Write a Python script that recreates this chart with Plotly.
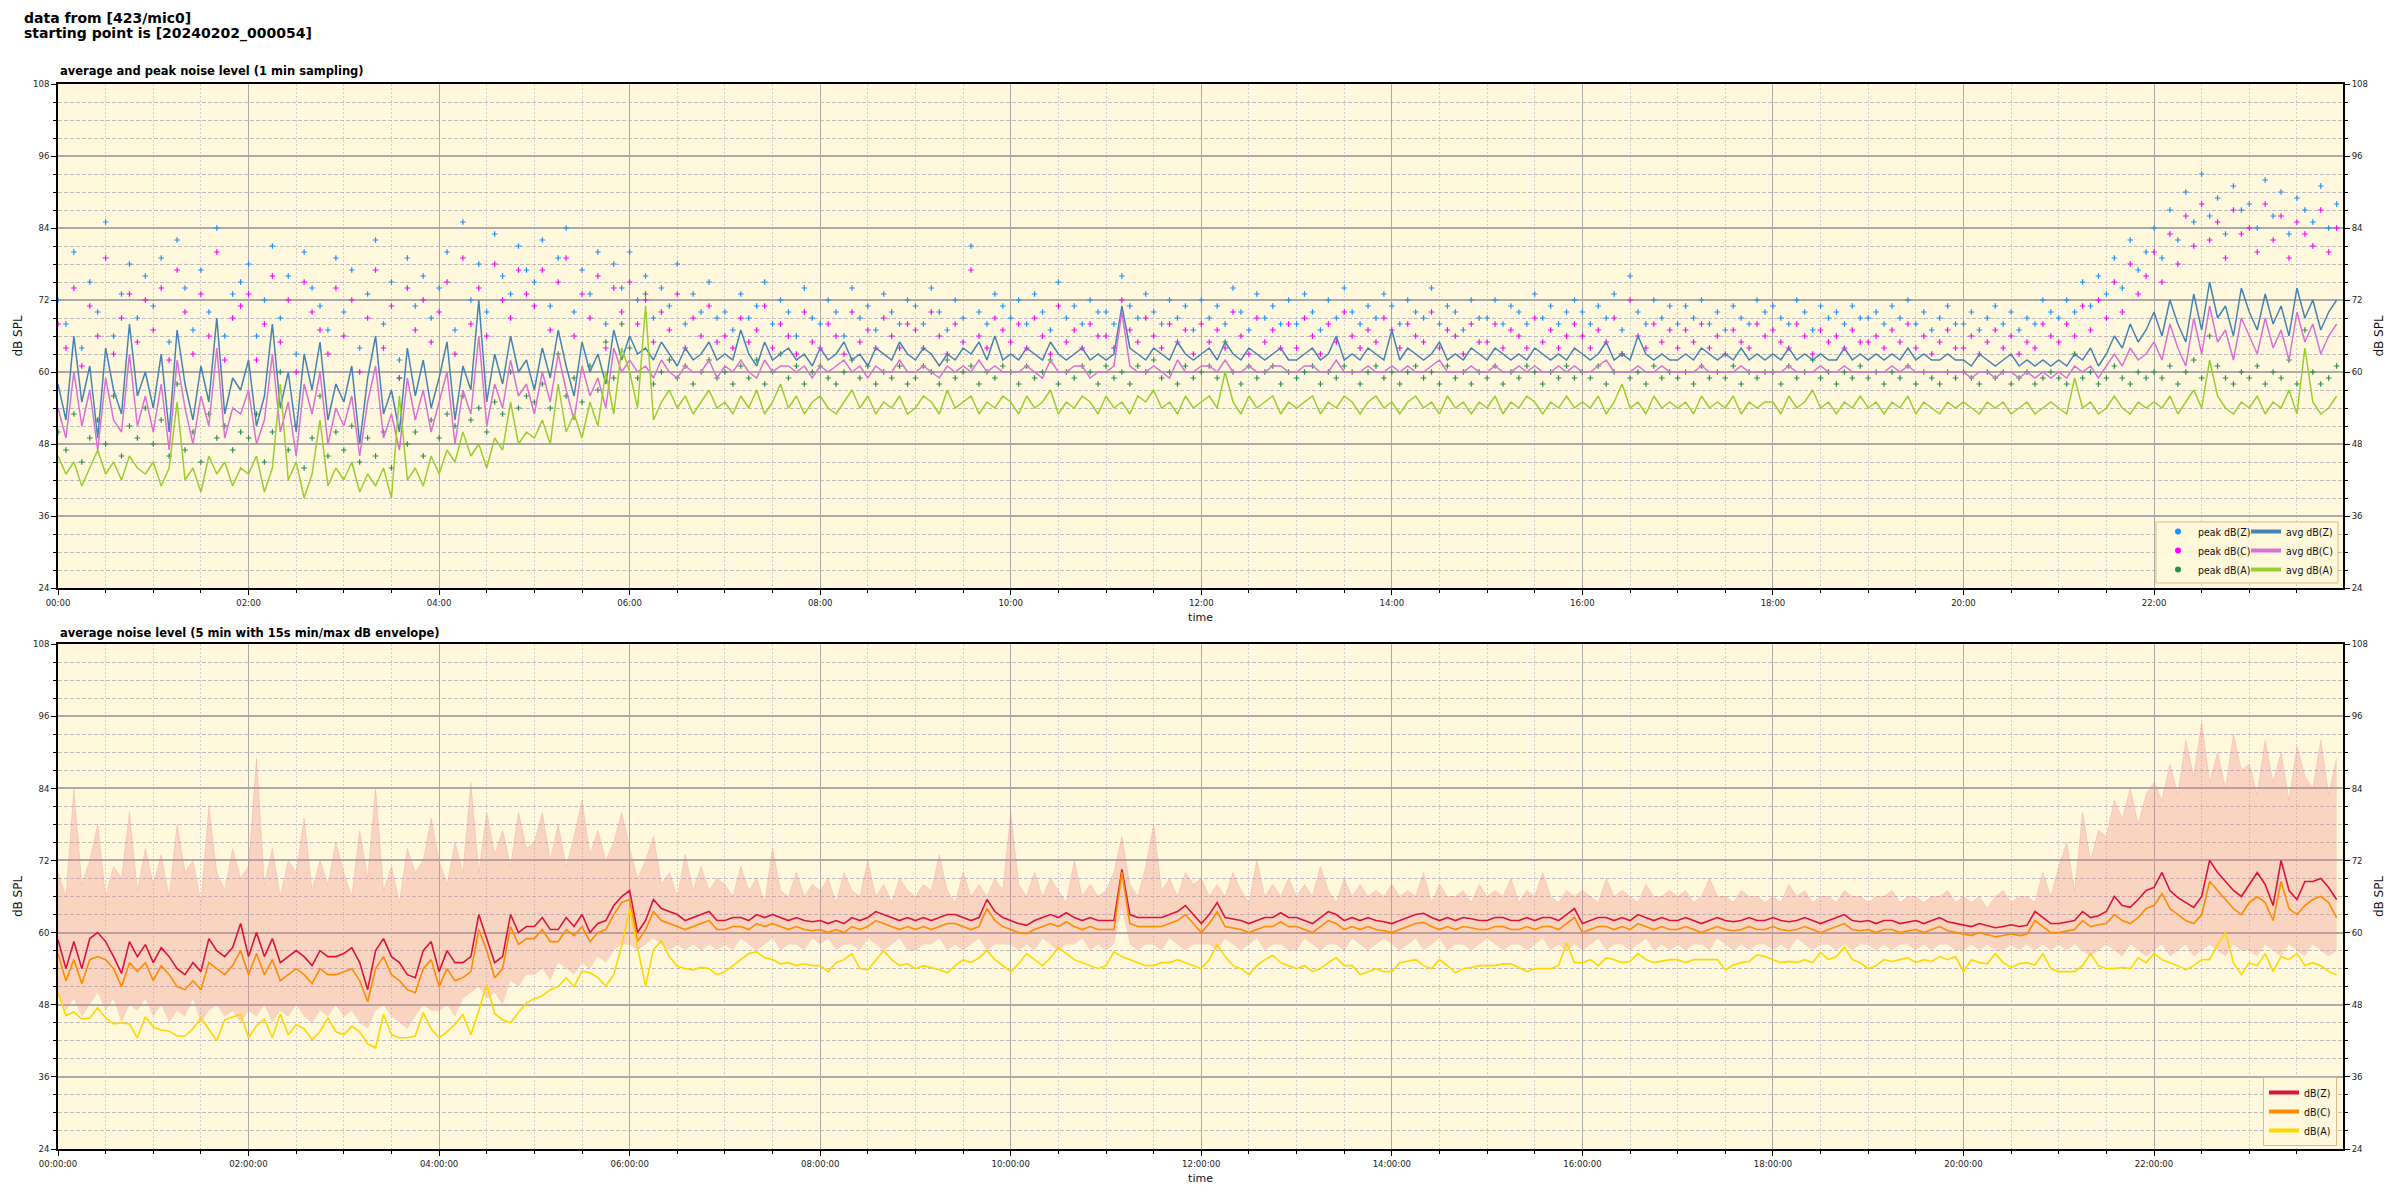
import plotly.graph_objects as go

FONT = "DejaVu Sans"
FONT_C = "DejaVu Sans Condensed, DejaVu Sans"

STEP_MIN = 5  # one value every 5 minutes, one row per hour

# ---------------- top panel: 1-min sampling (shown at 5-min steps) ----------------
avg_z = [
    58,52,66,55,61,49,64,57,53,68,56,60,
    54,63,50,67,58,52,61,55,69,53,59,57,
    62,51,56,68,54,60,50,63,57,65,52,58,
    55,61,48,59,66,53,57,50,64,56,62,54,
    59,65,52,61,57,72,55,63,58,66,60,62,
    57,64,59,67,61,56,65,60,63,58,67,62,
    66,63,64,62,65,63,61,64,62,63,65,62,
    63,62,67,63,61,65,62,63,64,62,63,61,
    64,62,63,65,62,63,61,64,63,62,65,63,
    62,64,63,61,63,62,64,63,65,62,66,62,
    63,62,64,63,62,65,63,62,63,64,62,63,
    62,63,71,64,63,62,64,63,62,65,63,62,
    63,64,62,65,63,62,64,63,62,63,64,62,
    62,63,64,62,63,66,62,63,62,64,63,62,
    67,62,64,63,62,63,65,62,63,62,64,63,
    62,64,63,62,63,62,64,63,62,63,62,64,
    63,62,63,65,62,63,62,66,63,62,63,62,
    62,63,62,64,63,62,63,62,64,62,63,62,
    63,62,64,62,63,62,63,62,62,64,62,63,
    62,63,62,63,62,64,62,63,62,62,63,62,
    62,61,63,62,61,62,63,61,62,61,62,61,
    62,61,63,62,64,61,63,66,64,68,65,67,
    70,66,72,68,65,73,67,75,69,71,66,74,
    70,67,73,68,71,66,74,69,72,67,70,72,
]
avg_c = [
    54,49,60,51,57,47,59,52,50,63,51,56,
    50,58,47,62,54,48,56,51,64,49,54,53,
    57,48,52,63,50,55,46,58,53,60,48,54,
    51,56,46,55,61,49,53,47,59,52,57,50,
    55,60,48,57,53,66,51,58,54,62,56,58,
    53,60,55,63,57,52,61,56,59,54,64,60,
    62,60,61,59,62,60,59,61,60,60,62,59,
    61,60,62,60,59,62,60,61,61,60,61,59,
    61,60,61,62,60,61,59,61,60,60,62,60,
    60,61,60,59,61,60,61,60,62,60,61,60,
    60,60,61,60,59,62,60,60,61,61,59,60,
    60,61,70,61,60,60,61,60,59,62,60,60,
    61,61,60,62,60,60,61,60,60,61,61,60,
    60,61,61,60,60,62,60,60,60,61,60,60,
    61,60,61,60,60,61,62,60,60,60,61,60,
    60,61,60,60,61,60,61,60,60,61,60,61,
    60,60,61,62,60,60,60,61,60,60,61,60,
    60,60,60,61,60,60,60,60,61,60,60,60,
    60,60,61,60,60,60,61,60,60,61,60,60,
    60,60,60,61,60,61,60,60,60,60,60,60,
    60,59,60,60,59,60,60,59,60,59,60,59,
    60,59,61,60,61,59,61,63,61,64,62,63,
    65,62,68,64,61,69,63,71,65,67,62,69,
    66,63,69,64,67,62,70,65,68,63,66,68,
]
avg_a = [
    46,43,45,41,44,47,43,45,42,46,44,43,
    45,41,44,55,42,44,40,46,43,45,41,44,
    43,46,40,44,58,42,45,39,43,52,41,44,
    42,45,40,43,41,44,39,56,42,44,41,46,
    43,47,45,50,46,48,44,49,47,55,48,50,
    49,52,48,58,50,53,49,55,51,60,53,64,
    60,54,71,52,55,57,54,56,53,55,57,54,
    55,53,56,54,57,53,55,58,54,56,53,55,
    56,54,53,55,57,54,56,53,55,54,56,53,
    54,56,55,53,57,54,55,56,53,55,54,56,
    55,53,56,54,55,57,53,55,54,56,55,53,
    56,54,55,53,56,55,57,54,55,53,56,54,
    55,56,54,60,55,53,56,54,55,56,53,55,
    54,55,56,53,55,54,56,55,53,55,56,54,
    55,53,55,56,54,55,53,56,54,55,53,55,
    54,56,53,55,54,56,55,53,55,54,56,54,
    55,54,56,53,55,58,54,55,53,56,54,55,
    54,55,53,56,54,55,54,56,53,55,54,55,
    55,53,56,54,55,57,54,55,53,55,54,56,
    54,55,53,55,54,56,53,55,54,53,55,54,
    55,54,53,55,54,55,53,54,55,53,54,55,
    54,53,59,54,55,53,54,56,54,53,55,54,
    55,54,56,53,55,57,54,62,56,54,53,55,
    54,56,53,55,54,57,53,64,55,53,54,56,
]
peak_z = [
    72,68,80,64,75,70,85,66,73,78,69,76,
    71,79,65,82,74,67,77,70,84,66,73,75,
    78,66,72,81,69,76,63,80,74,71,67,79,
    70,77,64,73,82,68,75,62,79,71,76,69,
    74,80,67,85,72,78,70,83,76,73,81,77,
    75,82,71,79,84,70,77,73,80,68,78,74,
    80,72,76,69,74,71,78,68,73,70,75,69,
    70,67,73,69,71,75,68,72,70,66,74,69,
    68,72,70,66,74,69,71,67,73,70,68,72,
    71,68,74,70,67,72,69,81,70,68,73,71,
    69,72,68,73,70,67,75,69,71,68,72,70,
    70,68,76,71,69,73,70,68,72,69,71,67,
    72,69,71,68,74,70,67,73,69,71,68,72,
    68,73,70,67,72,69,74,70,68,71,69,73,
    71,68,72,70,69,74,68,71,70,67,72,69,
    69,72,68,71,70,68,73,69,71,68,70,72,
    70,68,71,69,73,67,76,70,68,72,69,71,
    68,71,69,72,68,70,67,71,69,68,72,70,
    71,69,68,72,70,67,71,69,70,68,71,69,
    69,70,68,71,69,72,68,70,67,69,71,68,
    68,70,67,69,71,68,70,67,69,68,72,70,
    69,72,70,75,71,76,73,79,74,82,77,80,
    84,79,87,82,90,85,93,86,89,83,91,87,
    88,84,92,86,90,83,89,87,85,91,84,88,
]
peak_c = [
    68,64,74,61,71,66,79,63,69,73,65,72,
    67,74,62,77,70,63,73,66,80,62,69,71,
    73,62,68,76,65,72,60,75,70,67,63,74,
    66,72,60,69,77,64,71,59,74,67,72,65,
    70,75,63,79,68,74,66,78,72,69,77,73,
    71,77,67,75,79,66,73,69,76,64,74,70,
    75,68,72,65,70,67,73,64,69,66,71,65,
    66,64,69,65,67,71,64,68,66,63,70,65,
    64,68,66,63,70,65,67,64,69,66,64,68,
    67,64,70,66,63,68,65,77,66,64,69,67,
    65,68,64,69,66,63,71,65,67,64,68,66,
    66,64,72,67,65,69,66,64,68,65,67,63,
    68,65,67,64,70,66,63,69,65,67,64,68,
    64,69,66,63,68,65,70,66,64,67,65,69,
    67,64,68,66,65,70,64,67,66,63,68,65,
    65,68,64,67,66,64,69,65,67,64,66,68,
    66,64,67,65,69,63,72,66,64,68,65,67,
    64,67,65,68,64,66,63,67,65,64,68,66,
    67,65,64,68,66,63,67,65,66,64,67,65,
    65,66,64,67,65,68,64,66,63,65,67,64,
    64,66,63,65,67,64,66,63,65,64,68,66,
    65,68,66,71,67,72,69,75,70,78,73,76,
    80,75,83,78,86,81,88,82,85,79,87,83,
    84,80,88,82,86,79,85,83,81,87,80,84,
]
peak_a = [
    50,47,53,45,49,52,48,56,46,51,49,54,
    48,52,46,58,47,50,45,53,49,51,47,50,
    49,53,45,50,60,47,51,44,49,56,46,50,
    47,51,45,49,46,50,44,59,48,50,46,52,
    49,53,51,56,52,54,50,55,53,60,54,56,
    55,58,54,63,56,59,55,61,57,65,59,68,
    64,59,73,58,60,62,59,61,58,60,62,59,
    60,58,61,59,62,58,60,63,59,61,58,60,
    61,59,58,60,62,59,61,58,60,59,61,58,
    59,61,60,58,62,59,60,61,58,60,59,61,
    60,58,61,59,60,62,58,60,59,61,60,58,
    61,59,60,58,61,60,62,59,60,58,61,59,
    60,61,59,65,60,58,61,59,60,61,58,60,
    59,60,61,58,60,59,61,60,58,60,61,59,
    60,58,60,61,59,60,58,61,59,60,58,60,
    59,61,58,60,59,61,60,58,60,59,61,59,
    60,59,61,58,60,63,59,60,58,61,59,60,
    59,60,58,61,59,60,59,61,58,60,59,60,
    60,58,61,59,60,62,59,60,58,60,59,61,
    59,60,58,60,59,61,58,60,59,58,60,59,
    60,59,58,60,59,60,58,59,60,58,59,60,
    59,58,63,59,60,58,59,61,59,58,60,59,
    60,59,61,58,60,62,59,66,61,59,58,60,
    59,61,58,60,59,62,58,67,60,58,59,61,
]

# ---------------- bottom panel: 5-min averages + 15 s min/max envelope ----------------
avg5_z = [
    58.8,54,58.5,54,59,60,58.5,56,53.2,58.5,56,58,
    55,57.5,56,54,53,55,53.5,59,57,56,57.5,61.5,
    56,60,56,59,55,56,57,56,54.5,57,56,56,
    56.5,57.5,55,50.5,57,59,56,55,53,52.5,57,58.5,
    53.5,57,55,55,56,63,59,55,56,63,60,61,
    61,62.5,60.5,60.5,62.5,61,63,60,61.5,62,64.5,66,
    67,60,62,65.5,64,63.5,63,62,62.5,63,63.5,62,
    62,62.5,62.5,62,63,62.5,63,62.5,62,62.5,62,61.8,
    62,61.5,62,61.5,62.5,62,62.5,63.5,63,62.5,62,62.5,
    62,62.5,62,62.5,63,63,62.5,62,62.5,65.5,63.5,62.5,
    62,61.5,61.2,62,62.5,63,62.5,63.3,62.5,62,62.5,62,
    62,62,70.5,63,62.5,62.5,62.5,62.5,63,63.5,64.5,63,
    61.5,63,65,62.5,62.3,62,61.5,62,62.5,62.5,63.3,62.5,
    62.5,62,61.5,62.5,63.5,63,62,62.5,62,62.5,62,61.8,
    61.5,62,62.5,63,63.2,62.5,62,62.5,62,62.5,62.3,62,
    62,62.5,62.5,62,62,62.5,62,62.5,62.5,62,63,64,
    61.5,62,62.5,62.5,62,62.5,62,63,62.5,62,62.5,62,
    62,62.5,62,61.5,62,62.5,62,61.8,62,62.5,62,62,
    62.5,62,61.8,62,62.5,62,61.5,62,62.5,63,62,61.8,
    62,61.5,62,62,61.5,61.8,62,61.5,62,62.5,61.8,61.5,
    61.2,61,61.5,61.2,60.8,61,61.3,61,61.2,63.5,62.5,61.5,
    61.5,61.8,62,63.5,62.5,62.8,63.5,66,64.5,64.2,65.5,67,
    67.5,70,67,65.8,65,64.2,66,72,70,68.5,67,66,
    68,70,68,64.5,72,67,65.5,68.5,68.5,69,67.5,65.5,
]
avg5_c = [
    56.5,52,55.5,51.5,55.5,56,55.5,54,51,55,53.5,55,
    52,54.5,53,51,50.5,52,50.5,55,54,53,54.5,57,
    53,56.5,53,55.5,52,53,54,53,51.5,54,53,53,
    53.5,54,52,48.5,54,56,53,52,50.5,50,54,55.5,
    51,54,52,52.5,53.5,60.5,57,52.5,54,61,58,59,
    59,60.5,58.5,58.5,60.5,59.5,61,58.5,60,60.5,63,65,
    65.5,58.5,60.5,63.5,62,61.5,61,60.5,61,61.5,62,60.5,
    60.5,61,61,60.5,61.5,61,61.5,61,60.5,61,60.5,60.3,
    60.5,60,60.5,60,61,60.5,61,62,61.5,61,60.5,61,
    60.5,61,60.5,61,61.5,61.5,61,60.5,61,64,62,61,
    60.5,60,59.8,60.5,61,61.5,61,61.8,61,60.5,61,60.5,
    60.5,60.5,70,61.5,61,61,61,61,61.5,62,63,61.5,
    60,61.5,63.5,61,60.8,60.5,60,60.5,61,61,61.8,61,
    61,60.5,60,61,62,61.5,60.5,61,60.5,61,60.5,60.3,
    60,60.5,61,61.5,61.7,61,60.5,61,60.5,61,60.8,60.5,
    60.5,61,61,60.5,60.5,61,60.5,61,61,60.5,61.5,62.5,
    60,60.5,61,61,60.5,61,60.5,61.5,61,60.5,61,60.5,
    60.5,61,60.5,60,60.5,61,60.5,60.3,60.5,61,60.5,60.5,
    61,60.5,60.3,60.5,61,60.5,60,60.5,61,61.5,60.5,60.3,
    60.5,60,60.5,60.5,60,60.3,60.5,60,60.5,61,60.3,60,
    59.7,59.5,60,59.7,59.3,59.5,59.8,59.5,59.7,62,61,60,
    60,60.3,60.5,62,61,61.3,61.5,63,62,61.5,62.5,64,
    64.5,66.5,64,63,62,61.5,63,68.5,67,65.5,64,63,
    65,66,65,62,68.5,64,63,64.5,65.5,66,65,62.5,
]
avg5_a = [
    50,46.2,46.8,45.6,45.8,47.5,45.8,44.8,45,44.8,42.5,46,
    44.3,43.8,43.6,42.8,42.8,44,45.8,44,42,45.5,46,46.4,
    42.5,44.5,45.6,42.5,46.5,43,44.7,44,42.2,43.5,45.8,43.5,
    43,44.4,43.5,41.5,40.8,46.4,43,42.5,42.5,42.8,46.7,44,
    42.5,43.5,44.7,46.4,43,47,51.4,46.5,45.5,45,46.7,48.3,
    49,49.5,50.5,51,52.5,51,53.6,53.3,52.5,51.1,53,57.8,
    64,57.8,51.1,57.2,58.6,56,54.4,54,53.8,54.2,54,53,
    53.5,54.5,55.5,56.5,56.8,55.8,55.5,54.8,55,54.5,54.8,54.5,
    54.5,53.5,55,55.5,56.5,54,53.8,55.5,57,55.5,54.5,54.8,
    54,54.5,54.2,53.8,53.3,54.5,55.5,55,55.8,57,55.5,54.5,
    53.5,54.8,56.5,55.5,54.5,55.8,57.5,56.5,55.5,55,54.5,54,
    54.5,56.8,56,55.5,55,54.5,54.5,55,55,55.5,55,54.5,
    54,55.5,58,56,54.5,54,53,54.5,55.5,56.2,55,54.5,
    54,54.5,53.5,54,55,55.8,54.5,54.5,53,53.5,54,53.5,
    53.5,55,55.2,55.5,54.5,54,55.5,54.5,53.3,54,54.2,54.5,
    54.5,54.5,54.8,54.8,54.2,53.5,54,54,54,54.5,58.3,55,
    55,55.5,54.5,55.8,55.5,55,55.2,56.5,55.5,55,55.3,55.5,
    55.5,55,55.5,55.5,55.5,55.5,53.8,54.6,55,55.2,56.3,56,
    55.5,55,55.2,55,55.5,55,56.7,55.5,56,57.6,55.5,55,
    54,54.5,55.5,55.2,55.5,55.8,55,55.5,55.2,56,55.5,56,
    53.5,55.5,55,54.8,56.5,55,54.2,54.8,55,54.6,56.5,54,
    53.5,53.5,53.5,54.5,56.5,54.5,54,54,54.2,54,55.8,55,
    56.5,55.5,55,54.5,53.8,54.5,55.5,55.5,58,60,55,53,
    55,54.5,56.5,53.5,56,55.5,56.5,54.5,55,54.5,53.5,53,
]
env_max = [
    70,66,84,68,72,78,66,71,69,80,67,74,
    68,73,66,78,70,72,65,81,70,67,74,69,
    71,89,68,74,66,72,70,79,67,72,68,75,
    70,66,77,69,84,67,71,65,74,70,72,79,
    72,68,75,70,85,70,80,73,77,71,80,74,
    75,80,72,78,71,76,82,73,77,72,75,80,
    74,69,72,76,68,70,66,73,67,71,67,69,
    68,66,71,67,69,65,74,67,66,70,66,68,
    67,69,65,70,67,66,72,66,68,65,69,67,
    66,68,67,73,67,65,70,66,68,66,69,67,
    80,68,66,70,66,69,67,65,72,66,68,66,
    67,70,76,68,66,71,78,67,69,66,70,68,
    69,66,68,66,70,67,65,72,66,68,66,69,
    66,68,66,71,67,65,69,66,68,66,67,66,
    68,66,67,66,70,65,68,66,66,67,65,68,
    66,67,66,69,65,67,66,70,66,65,67,66,
    67,66,65,69,66,67,66,65,68,66,66,67,
    66,67,65,66,69,66,66,65,67,66,66,65,
    66,65,68,66,67,65,66,66,65,67,66,66,
    65,66,66,67,65,66,66,65,66,66,67,65,
    66,65,66,64,66,67,65,66,66,65,70,66,
    71,75,67,80,72,77,76,82,79,84,78,83,
    85,82,88,83,92,86,95,85,90,84,93,87,
    88,83,92,85,90,82,91,86,84,92,83,89,
]
env_min = [
    50,47,49,46,48,50,47,49,45,48,47,49,
    46,48,45,47,46,49,45,47,48,46,47,45,
    47,46,48,45,47,46,48,46,45,47,46,48,
    46,47,45,44,47,48,46,45,44,46,48,47,
    47,48,46,49,50,51,49,50,48,52,51,53,
    53,54,52,55,54,53,55,54,56,55,57,58,
    58,57,58,59,58,57,58,57,58,57,58,57,
    58,57,59,58,57,58,59,57,58,58,57,59,
    58,59,57,58,58,57,59,58,57,58,59,57,
    57,58,58,59,57,58,57,58,59,57,58,58,
    58,57,58,57,59,58,57,58,58,59,57,58,
    57,58,64,58,57,58,58,57,59,58,57,58,
    58,58,57,59,58,57,58,59,57,58,58,57,
    57,59,58,57,58,58,57,59,58,57,58,59,
    58,57,58,59,57,58,59,57,58,58,57,58,
    59,58,57,58,58,57,58,59,57,58,57,58,
    57,58,59,57,58,58,57,58,59,57,58,57,
    58,57,58,58,57,59,58,57,58,57,58,58,
    57,58,57,59,58,57,58,58,57,58,57,58,
    58,57,58,57,58,58,57,58,57,58,58,57,
    57,58,57,58,57,57,58,57,58,57,58,57,
    58,57,58,57,56,57,58,57,56,58,57,56,
    57,58,56,57,58,56,57,58,57,56,58,57,
    57,56,58,57,56,58,57,56,58,57,56,57,
]

tick_minutes = [0, 120, 240, 360, 480, 600, 720, 840, 960, 1080, 1200, 1320]
top_tick_text = ["00:00", "02:00", "04:00", "06:00", "08:00", "10:00",
                 "12:00", "14:00", "16:00", "18:00", "20:00", "22:00"]
bottom_tick_text = ["00:00:00", "02:00:00", "04:00:00", "06:00:00", "08:00:00", "10:00:00",
                    "12:00:00", "14:00:00", "16:00:00", "18:00:00", "20:00:00", "22:00:00"]
y_ticks = [24, 36, 48, 60, 72, 84, 96, 108]

COL = dict(
    avg_z="#4682B4", avg_c="#DA70D6", avg_a="#9ACD32",
    peak_z="#1E90FF", peak_c="#FF00FF", peak_a="#2E8B57",
    z5="#DC143C", c5="#FF8C00", a5="#FFD700",
    env="rgba(235,130,130,0.30)",
)


def xs(arr):
    return [i * STEP_MIN for i in range(len(arr))]


fig = go.Figure()

# top: peak markers
for name, arr, col in [("peak dB(Z)", peak_z, COL["peak_z"]),
                       ("peak dB(C)", peak_c, COL["peak_c"]),
                       ("peak dB(A)", peak_a, COL["peak_a"])]:
    fig.add_trace(go.Scatter(
        x=xs(arr), y=arr, mode="markers", name=name, showlegend=False,
        marker=dict(symbol="cross-thin", size=4, color=col, line=dict(width=1.2, color=col)),
        xaxis="x", yaxis="y"))

# top: average lines
for name, arr, col in [("avg dB(Z)", avg_z, COL["avg_z"]),
                       ("avg dB(C)", avg_c, COL["avg_c"]),
                       ("avg dB(A)", avg_a, COL["avg_a"])]:
    fig.add_trace(go.Scatter(
        x=xs(arr), y=arr, mode="lines", name=name, showlegend=False,
        line=dict(color=col, width=1.5), xaxis="x", yaxis="y"))

# bottom: envelope
fig.add_trace(go.Scatter(x=xs(env_min), y=env_min, mode="lines", line=dict(width=0, color=COL["env"]),
                         showlegend=False, hoverinfo="skip", xaxis="x2", yaxis="y2"))
fig.add_trace(go.Scatter(x=xs(env_max), y=env_max, mode="lines", line=dict(width=0.8, color=COL["env"]),
                         fill="tonexty", fillcolor=COL["env"], showlegend=False, hoverinfo="skip",
                         xaxis="x2", yaxis="y2"))
for name, arr, col in [("dB(Z)", avg5_z, COL["z5"]),
                       ("dB(C)", avg5_c, COL["c5"]),
                       ("dB(A)", avg5_a, COL["a5"])]:
    fig.add_trace(go.Scatter(
        x=xs(arr), y=arr, mode="lines", name=name, showlegend=False,
        line=dict(color=col, width=1.6), xaxis="x2", yaxis="y2"))

# legend entries
for name, col in [("peak dB(Z)", COL["peak_z"]), ("peak dB(C)", COL["peak_c"]), ("peak dB(A)", COL["peak_a"])]:
    fig.add_trace(go.Scatter(x=[None], y=[None], mode="markers", name=name, legend="legend",
                             marker=dict(symbol="circle", size=6, color=col), xaxis="x", yaxis="y"))
for name, col in [("avg dB(Z)", COL["avg_z"]), ("avg dB(C)", COL["avg_c"]), ("avg dB(A)", COL["avg_a"])]:
    fig.add_trace(go.Scatter(x=[None], y=[None], mode="lines", name=name, legend="legend2",
                             line=dict(color=col, width=4), xaxis="x", yaxis="y"))
for name, col in [("dB(Z)", COL["z5"]), ("dB(C)", COL["c5"]), ("dB(A)", COL["a5"])]:
    fig.add_trace(go.Scatter(x=[None], y=[None], mode="lines", name=name, legend="legend3",
                             line=dict(color=col, width=4), xaxis="x2", yaxis="y2"))

# invisible anchors for right-hand axes
fig.add_trace(go.Scatter(x=[0], y=[24], mode="markers", marker=dict(opacity=0), showlegend=False,
                         hoverinfo="skip", xaxis="x", yaxis="y3"))
fig.add_trace(go.Scatter(x=[0], y=[24], mode="markers", marker=dict(opacity=0), showlegend=False,
                         hoverinfo="skip", xaxis="x2", yaxis="y4"))

# the page body has an 8 px margin: figure is placed at (8, 8) in the window
OFF = 8
W, H = 2400 - OFF, 1200 - OFF
ML, MR, MT, MB = 58 - OFF, 57, 84 - OFF, 51
PH = H - MT - MB
PW = W - ML - MR


def py(pix):  # window pixel row -> paper y
    return (H - MB - (pix - OFF)) / PH


def px(pix):  # window pixel column -> paper x
    return (pix - OFF - ML) / PW


TOP_DOM = [py(588), 1.0]
BOT_DOM = [0.0, py(644)]

tickfont = dict(family=FONT_C, size=9.5, color="#222")
major_grid = "#ABABAB"


def xaxis(labels, anchor):
    return dict(
        domain=[0, 1], anchor=anchor, range=[0, 1439],
        tickmode="array", tickvals=tick_minutes, ticktext=labels,
        showgrid=True, gridcolor=major_grid, gridwidth=1.3,
        showline=True, linecolor="black", linewidth=1.5, mirror=True,
        ticks="outside", ticklen=5, tickcolor="black", tickwidth=1, tickfont=tickfont,
        minor=dict(tickmode="linear", tick0=0, dtick=30, ticks="outside", ticklen=3,
                   tickcolor="black", showgrid=True, gridcolor="#CFCFCF", griddash="2px,2px", gridwidth=1),
        zeroline=False,
        title=dict(text="time", font=dict(family=FONT, size=11, color="#111"), standoff=6),
    )


def yaxis(dom, anchor, side="left", overlay=None):
    d = dict(
        range=[24, 108], tickmode="array", tickvals=y_ticks, side=side, anchor=anchor,
        showline=True, linecolor="black", linewidth=1.5,
        ticks="outside", ticklen=5, tickcolor="black", tickwidth=1, tickfont=tickfont,
        zeroline=False,
        title=dict(text="dB SPL", font=dict(family=FONT, size=12, color="#111"), standoff=8),
    )
    if overlay is None:
        d.update(domain=dom, showgrid=True, gridcolor=major_grid, gridwidth=1.6,
                 minor=dict(tickmode="linear", tick0=24, dtick=3, ticks="outside", ticklen=3,
                            tickcolor="black", showgrid=True, gridcolor="#BDBDBD",
                            griddash="4px,2px", gridwidth=1))
    else:
        d.update(overlaying=overlay, showgrid=False,
                 minor=dict(tickmode="linear", tick0=24, dtick=3, ticks="outside", ticklen=3,
                            tickcolor="black", showgrid=False))
    return d


legend_common = dict(font=dict(family=FONT_C, size=10.5, color="#111"), bgcolor="rgba(0,0,0,0)",
                     borderwidth=0, itemwidth=30, tracegroupgap=0, orientation="v",
                     traceorder="normal", xanchor="left", yanchor="bottom")

fig.update_layout(
    width=W, height=H,
    margin=dict(l=ML, r=MR, t=MT, b=MB, autoexpand=False),
    paper_bgcolor="white", plot_bgcolor="#FFF8DC",
    font=dict(family=FONT, size=10, color="#111"),
    xaxis=xaxis(top_tick_text, "y"),
    xaxis2=xaxis(bottom_tick_text, "y2"),
    yaxis=yaxis(TOP_DOM, "x"),
    yaxis2=yaxis(BOT_DOM, "x2"),
    yaxis3=yaxis(TOP_DOM, "x", side="right", overlay="y"),
    yaxis4=yaxis(BOT_DOM, "x2", side="right", overlay="y2"),
    legend=dict(legend_common, x=px(2158), y=py(584)),
    legend2=dict(legend_common, x=px(2246), y=py(584)),
    legend3=dict(legend_common, x=px(2337), xanchor="right", y=py(1146),
                 bgcolor="rgba(255,248,220,0.85)", bordercolor="#DDBB88", borderwidth=1),
    shapes=[dict(type="rect", xref="paper", yref="paper", layer="above",
                 x0=px(2156), x1=px(2338), y0=py(583), y1=py(522),
                 fillcolor="rgba(255,248,220,0.9)", line=dict(color="#DDBB88", width=1))],
    annotations=[
        dict(text="<b>data from [423/mic0]</b>", xref="paper", yref="paper",
             x=px(22), y=py(18), xanchor="left", yanchor="middle", showarrow=False,
             font=dict(family=FONT, size=14, color="black")),
        dict(text="<b>starting point is [20240202_000054]</b>", xref="paper", yref="paper",
             x=px(22), y=py(33), xanchor="left", yanchor="middle", showarrow=False,
             font=dict(family=FONT, size=14, color="black")),
        dict(text="<b>average and peak noise level (1 min sampling)</b>", xref="paper", yref="paper",
             x=0, y=py(71), xanchor="left", yanchor="middle", showarrow=False,
             font=dict(family=FONT, size=11.5, color="black")),
        dict(text="<b>average noise level (5 min with 15s min/max dB envelope)</b>", xref="paper",
             yref="paper", x=0, y=py(633), xanchor="left", yanchor="middle", showarrow=False,
             font=dict(family=FONT, size=11.5, color="black")),
    ],
)

fig.write_html("out.html")
